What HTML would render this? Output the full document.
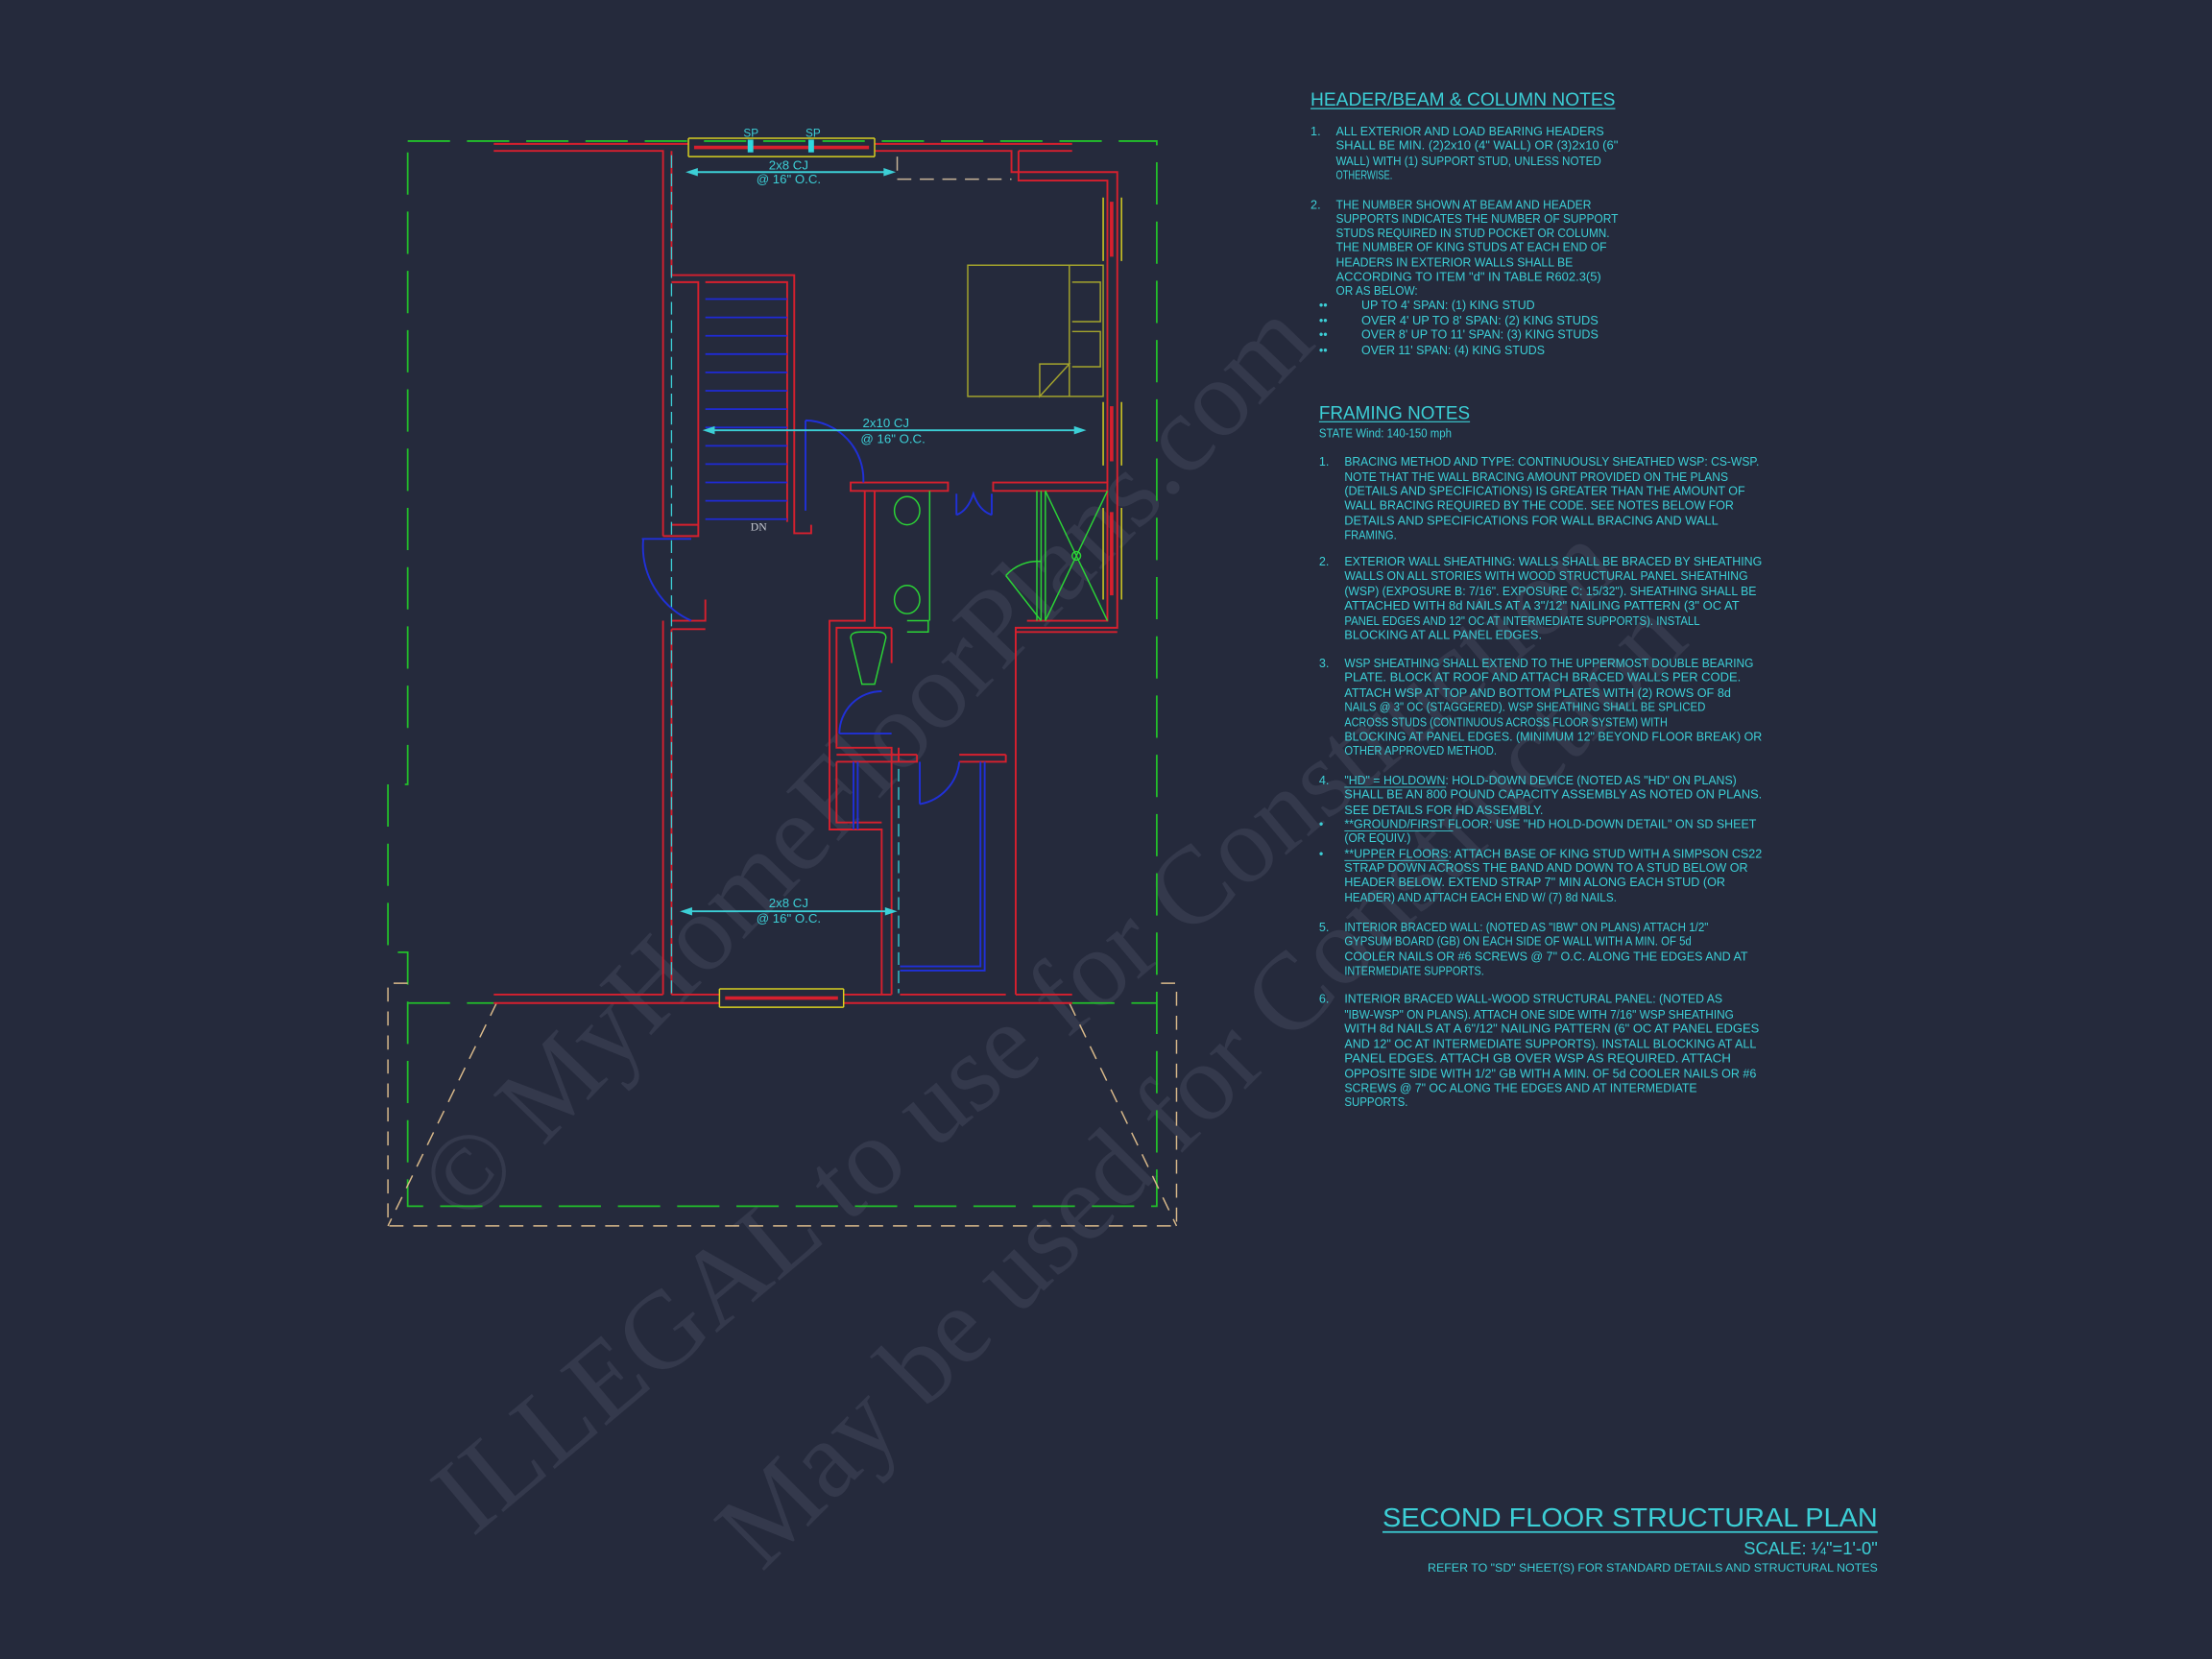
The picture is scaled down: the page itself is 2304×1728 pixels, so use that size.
<!DOCTYPE html>
<html><head><meta charset="utf-8"><style>
html,body{margin:0;padding:0;background:#252a3c;}
svg{display:block}
.t{font-family:"Liberation Sans",sans-serif;fill:#3ccfd6;font-size:9px}
.wm{font-family:"Liberation Serif",serif;fill:#3a3f52;font-size:78px}
</style></head><body>
<svg width="2304" height="1728" viewBox="0 0 1568 1176" xmlns="http://www.w3.org/2000/svg">
<rect width="1568" height="1176" fill="#252a3c"/>
<!-- watermark -->
<g opacity="0.75">
<text class="wm" transform="translate(330,870) rotate(-46)">© MyHomeFloorPlans.com</text>
<text class="wm" transform="translate(335,1090) rotate(-40)">ILLEGAL to use for Construction</text>
<text class="wm" transform="translate(540,1115) rotate(-45)">May be used for Construction</text>
</g>
<!-- green dashed outline -->
<g fill="none" stroke="#22c02a" stroke-width="1.2" stroke-dasharray="30,12">
<path d="M289,100 H820 V855 H289 V675 H275 V556 H289 Z"/>
<path d="M289,711 H350 M760,711 H820"/>
</g>
<!-- beige dashed -->
<g fill="none" stroke="#d9b98a" stroke-width="1" stroke-dasharray="10,7">
<path d="M289,697 H275 V869 H834 V697 H820"/>
<path d="M352,711 L275,869 M758,711 L834,869"/>
</g>
<!-- red walls -->
<g fill="none" stroke="#d7202e" stroke-width="1.3">
<path d="M350,102 H488 M620,102 H760"/>
<path d="M350,107 H470 V380 M620,107 H717 V122 H792 V445 H720 V705 M722,107 H760 M722,107 V128 H785 V342"/>
<path d="M476,107 V195 H563 V378 H575 V372 M500,200 H558 V370 M476,200 H495 V372 H476 M470,380 H495 V372"/>
<path d="M470,440 V705 M476,440 H500 V425 M476,446 H500 M476,446 V705"/>
<path d="M350,711 H510 M598,711 H760 M350,705 H470 M476,705 H510 M598,705 H632 M638,705 H713 M720,705 H760"/>
<path d="M603,342 H672 V348 H603 Z M704,342 H785 V348 H704 Z"/>
<path d="M613,348 V440 H588 V588 H625 V705 M620,348 V445 H593 V530 H632 V705"/>
<path d="M593,535 H650 M593,540 H650 V535 M680,535 H713 M680,540 H713 V535 M593,540 V583 H625"/>
<path d="M785,348 V440 H728 M792,448 H720"/>
<path d="M632,445 V470 M620,445 H632 M637,530 V540"/>
</g>
<!-- windows -->
<g fill="none" stroke="#d8d021" stroke-width="1">
<path d="M488,98 H620 M488,111 H620 M488,98 V111 M620,98 V111"/>
<path d="M510,701 H598 M510,714 H598 M510,701 V714 M598,701 V714"/>
<path d="M782,140 V185 M795,140 V185 M782,285 V330 M795,285 V330 M782,360 V425 M795,360 V425"/>
</g>
<g stroke="#d7202e" stroke-width="2.5"><path d="M492,104.5 H616 M514,707.5 H594 M788,143 V182 M788,288 V327 M788,363 V422"/></g>
<rect x="530" y="99" width="4" height="9" fill="#2fd8e0"/><rect x="573" y="99" width="4" height="9" fill="#2fd8e0"/>
<text class="t" x="527" y="97" style="font-size:8px">SP</text><text class="t" x="571" y="97" style="font-size:8px">SP</text>
<!-- closet dashed beige top -->
<path d="M636,111 V127 H717" fill="none" stroke="#c9b598" stroke-width="1" stroke-dasharray="10,6"/>
<!-- cyan dashed beam lines -->
<g stroke="#3ccfd6" stroke-width="0.9" stroke-dasharray="9,4"><path d="M476,110 V704 M637,545 V704"/></g>
<!-- stair treads -->
<g stroke="#1f2ad6" stroke-width="1.2">
<path d="M500,212 H558 M500,238 H558 M500,264 H558 M500,290 H558 M500,316 H558 M500,342 H558 M500,368 H558"/>
<path d="M500,225 H558 M500,251 H558 M500,277 H558 M500,303 H558 M500,329 H558 M500,355 H558"/>
</g>
<text x="532" y="376" style="font-family:'Liberation Serif',serif;font-size:8px;fill:#c8cbd4">DN</text>
<!-- doors blue -->
<g fill="none" stroke="#2030d8" stroke-width="1.3">
<path d="M571,298 V362 M571,298 A42,42 0 0 1 612,342"/>
<path d="M455,382 H490 M456,382 A58,58 0 0 0 490,440"/>
<path d="M678,350 V365 M703,350 V365 M678,365 Q686,362 690,350 Q694,362 703,365"/>
<path d="M595,520 H632 M595,520 A30,30 0 0 1 625,490"/>
<path d="M652,540 V570 M652,570 A34,34 0 0 0 680,540"/>
<path d="M698,540 V688 H638 M695,540 V685 H638 M605,540 V588 M608,540 V588"/>
</g>
<!-- bed -->
<g fill="none" stroke="#a4a42c" stroke-width="1">
<rect x="686" y="188" width="96" height="93"/>
<path d="M758,188 V281 M760,200 H780 V228 H760 M760,235 H780 V260 H760 M737,258 H758 L737,281 Z"/>
</g>
<!-- bathroom fixtures green -->
<g fill="none" stroke="#2bd436" stroke-width="1">
<path d="M659,348 V440 M643,440 H658 V448 H643"/>
<ellipse cx="643" cy="362" rx="9" ry="10"/><ellipse cx="643" cy="425" rx="9" ry="10"/>
<path d="M603,452 Q603,448 610,448 H622 Q628,448 628,452 L620,485 H611 Z"/>
<path d="M735,348 V440 M738,348 V440 M741,348 V440 M741,348 L785,440 M785,348 L741,440"/>
<circle cx="763" cy="394" r="3"/>
<path d="M713,408 L738,440 M738,398 A30,30 0 0 0 713,408"/>
</g>
<!-- joist arrows -->
<g stroke="#3ccfd6" stroke-width="1.3" fill="#3ccfd6">
<path d="M490,122 H631"/><path d="M488,122 l6,-2 v4z M633,122 l-6,-2 v4z"/>
<path d="M502,305 H766"/><path d="M500,305 l6,-2 v4z M768,305 l-6,-2 v4z"/>
<path d="M486,646 H632"/><path d="M484,646 l6,-2 v4z M634,646 l-6,-2 v4z"/>
</g>
<g class="t" style="font-size:9px" text-anchor="middle">
<text x="559" y="120">2x8 CJ</text><text x="559" y="130">@ 16" O.C.</text>
<text x="628" y="303">2x10 CJ</text><text x="633" y="314">@ 16" O.C.</text>
<text x="559" y="643">2x8 CJ</text><text x="559" y="654">@ 16" O.C.</text>
</g>
<!-- HEADER notes -->
<text class="t" x="929" y="75" style="font-size:13.5px" textLength="216" lengthAdjust="spacingAndGlyphs">HEADER/BEAM &amp; COLUMN NOTES</text>
<line x1="929" y1="77" x2="1145" y2="77" stroke="#3ccfd6" stroke-width="0.8"/>
<g class="t" style="font-size:8.6px">
<text x="929" y="96">1.</text>
<text x="947" y="96" textLength="190" lengthAdjust="spacingAndGlyphs">ALL EXTERIOR AND LOAD BEARING HEADERS</text>
<text x="947" y="106" textLength="200" lengthAdjust="spacingAndGlyphs">SHALL BE MIN. (2)2x10 (4" WALL) OR (3)2x10 (6"</text>
<text x="947" y="117" textLength="188" lengthAdjust="spacingAndGlyphs">WALL) WITH (1) SUPPORT STUD, UNLESS NOTED</text>
<text x="947" y="127" textLength="40" lengthAdjust="spacingAndGlyphs">OTHERWISE.</text>
<text x="929" y="148">2.</text>
<text x="947" y="148" textLength="181" lengthAdjust="spacingAndGlyphs">THE NUMBER SHOWN AT BEAM AND HEADER</text>
<text x="947" y="158" textLength="200" lengthAdjust="spacingAndGlyphs">SUPPORTS INDICATES THE NUMBER OF SUPPORT</text>
<text x="947" y="168" textLength="194" lengthAdjust="spacingAndGlyphs">STUDS REQUIRED IN STUD POCKET OR COLUMN.</text>
<text x="947" y="178" textLength="192" lengthAdjust="spacingAndGlyphs">THE NUMBER OF KING STUDS AT EACH END OF</text>
<text x="947" y="189" textLength="168" lengthAdjust="spacingAndGlyphs">HEADERS IN EXTERIOR WALLS SHALL BE</text>
<text x="947" y="199" textLength="188" lengthAdjust="spacingAndGlyphs">ACCORDING TO ITEM "d" IN TABLE R602.3(5)</text>
<text x="947" y="209" textLength="58" lengthAdjust="spacingAndGlyphs">OR AS BELOW:</text>
<text x="935" y="219">••</text><text x="965" y="219" textLength="123" lengthAdjust="spacingAndGlyphs">UP TO 4' SPAN: (1) KING STUD</text>
<text x="935" y="230">••</text><text x="965" y="230" textLength="168" lengthAdjust="spacingAndGlyphs">OVER 4' UP TO 8' SPAN: (2) KING STUDS</text>
<text x="935" y="240">••</text><text x="965" y="240" textLength="168" lengthAdjust="spacingAndGlyphs">OVER 8' UP TO 11' SPAN: (3) KING STUDS</text>
<text x="935" y="251">••</text><text x="965" y="251" textLength="130" lengthAdjust="spacingAndGlyphs">OVER 11' SPAN: (4) KING STUDS</text>
</g>
<!-- FRAMING notes -->
<text class="t" x="935" y="297" style="font-size:13.5px" textLength="107" lengthAdjust="spacingAndGlyphs">FRAMING NOTES</text>
<line x1="935" y1="299" x2="1042" y2="299" stroke="#3ccfd6" stroke-width="0.8"/>
<text class="t" x="935" y="310" textLength="94" lengthAdjust="spacingAndGlyphs">STATE Wind: 140-150 mph</text>
<g class="t" style="font-size:8.6px">
<text x="935" y="330">1.</text>
<text x="953" y="330" textLength="294" lengthAdjust="spacingAndGlyphs">BRACING METHOD AND TYPE: CONTINUOUSLY SHEATHED WSP: CS-WSP.</text>
<text x="953" y="341" textLength="272" lengthAdjust="spacingAndGlyphs">NOTE THAT THE WALL BRACING AMOUNT PROVIDED ON THE PLANS</text>
<text x="953" y="351" textLength="284" lengthAdjust="spacingAndGlyphs">(DETAILS AND SPECIFICATIONS) IS GREATER THAN THE AMOUNT OF</text>
<text x="953" y="361" textLength="276" lengthAdjust="spacingAndGlyphs">WALL BRACING REQUIRED BY THE CODE. SEE NOTES BELOW FOR</text>
<text x="953" y="372" textLength="265" lengthAdjust="spacingAndGlyphs">DETAILS AND SPECIFICATIONS FOR WALL BRACING AND WALL</text>
<text x="953" y="382" textLength="37" lengthAdjust="spacingAndGlyphs">FRAMING.</text>
<text x="935" y="401">2.</text>
<text x="953" y="401" textLength="296" lengthAdjust="spacingAndGlyphs">EXTERIOR WALL SHEATHING: WALLS SHALL BE BRACED BY SHEATHING</text>
<text x="953" y="411" textLength="286" lengthAdjust="spacingAndGlyphs">WALLS ON ALL STORIES WITH WOOD STRUCTURAL PANEL SHEATHING</text>
<text x="953" y="422" textLength="292" lengthAdjust="spacingAndGlyphs">(WSP) (EXPOSURE B: 7/16". EXPOSURE C: 15/32"). SHEATHING SHALL BE</text>
<text x="953" y="432" textLength="280" lengthAdjust="spacingAndGlyphs">ATTACHED WITH 8d NAILS AT A 3"/12" NAILING PATTERN (3" OC AT</text>
<text x="953" y="443" textLength="252" lengthAdjust="spacingAndGlyphs">PANEL EDGES AND 12" OC AT INTERMEDIATE SUPPORTS). INSTALL</text>
<text x="953" y="453" textLength="140" lengthAdjust="spacingAndGlyphs">BLOCKING AT ALL PANEL EDGES.</text>
<text x="935" y="473">3.</text>
<text x="953" y="473" textLength="290" lengthAdjust="spacingAndGlyphs">WSP SHEATHING SHALL EXTEND TO THE UPPERMOST DOUBLE BEARING</text>
<text x="953" y="483" textLength="281" lengthAdjust="spacingAndGlyphs">PLATE. BLOCK AT ROOF AND ATTACH BRACED WALLS PER CODE.</text>
<text x="953" y="494" textLength="274" lengthAdjust="spacingAndGlyphs">ATTACH WSP AT TOP AND BOTTOM PLATES WITH (2) ROWS OF 8d</text>
<text x="953" y="504" textLength="256" lengthAdjust="spacingAndGlyphs">NAILS @ 3" OC (STAGGERED).  WSP SHEATHING SHALL BE SPLICED</text>
<text x="953" y="515" textLength="229" lengthAdjust="spacingAndGlyphs">ACROSS STUDS (CONTINUOUS ACROSS FLOOR SYSTEM) WITH</text>
<text x="953" y="525" textLength="296" lengthAdjust="spacingAndGlyphs">BLOCKING AT PANEL EDGES. (MINIMUM 12" BEYOND FLOOR BREAK) OR</text>
<text x="953" y="535" textLength="108" lengthAdjust="spacingAndGlyphs">OTHER APPROVED METHOD.</text>
<text x="935" y="556">4.</text>
<text x="953" y="556" textLength="278" lengthAdjust="spacingAndGlyphs">"HD" = HOLDOWN: HOLD-DOWN DEVICE (NOTED AS "HD" ON PLANS)</text>
<text x="953" y="566" textLength="296" lengthAdjust="spacingAndGlyphs">SHALL BE AN 800 POUND CAPACITY ASSEMBLY AS NOTED ON PLANS.</text>
<text x="953" y="577" textLength="141" lengthAdjust="spacingAndGlyphs">SEE DETAILS FOR HD ASSEMBLY.</text>
<text x="935" y="587">•</text>
<text x="953" y="587" textLength="292" lengthAdjust="spacingAndGlyphs">**GROUND/FIRST FLOOR:  USE "HD HOLD-DOWN DETAIL" ON SD SHEET</text>
<text x="953" y="597" textLength="47" lengthAdjust="spacingAndGlyphs">(OR EQUIV.)</text>
<text x="935" y="608">•</text>
<text x="953" y="608" textLength="296" lengthAdjust="spacingAndGlyphs">**UPPER FLOORS: ATTACH BASE OF KING STUD WITH A SIMPSON CS22</text>
<text x="953" y="618" textLength="286" lengthAdjust="spacingAndGlyphs">STRAP DOWN ACROSS THE BAND AND DOWN TO A STUD BELOW OR</text>
<text x="953" y="628" textLength="270" lengthAdjust="spacingAndGlyphs">HEADER BELOW.  EXTEND STRAP 7" MIN ALONG EACH STUD (OR</text>
<text x="953" y="639" textLength="193" lengthAdjust="spacingAndGlyphs">HEADER) AND ATTACH EACH END W/ (7) 8d NAILS.</text>
<line x1="953" y1="589" x2="1030" y2="589" stroke="#3ccfd6" stroke-width="0.6"/>
<line x1="953" y1="610" x2="1027" y2="610" stroke="#3ccfd6" stroke-width="0.6"/>
<line x1="953" y1="558" x2="1025" y2="558" stroke="#3ccfd6" stroke-width="0.6"/>
<text x="935" y="660">5.</text>
<text x="953" y="660" textLength="258" lengthAdjust="spacingAndGlyphs">INTERIOR BRACED WALL: (NOTED AS "IBW" ON PLANS) ATTACH 1/2"</text>
<text x="953" y="670" textLength="246" lengthAdjust="spacingAndGlyphs">GYPSUM BOARD (GB) ON EACH SIDE OF WALL WITH A MIN. OF 5d</text>
<text x="953" y="681" textLength="286" lengthAdjust="spacingAndGlyphs">COOLER NAILS OR #6 SCREWS @ 7" O.C. ALONG THE EDGES AND AT</text>
<text x="953" y="691" textLength="99" lengthAdjust="spacingAndGlyphs">INTERMEDIATE SUPPORTS.</text>
<text x="935" y="711">6.</text>
<text x="953" y="711" textLength="268" lengthAdjust="spacingAndGlyphs">INTERIOR BRACED WALL-WOOD STRUCTURAL PANEL: (NOTED AS</text>
<text x="953" y="722" textLength="276" lengthAdjust="spacingAndGlyphs">"IBW-WSP" ON PLANS). ATTACH ONE SIDE WITH 7/16" WSP SHEATHING</text>
<text x="953" y="732" textLength="294" lengthAdjust="spacingAndGlyphs">WITH 8d NAILS AT A 6"/12" NAILING PATTERN (6" OC AT PANEL EDGES</text>
<text x="953" y="743" textLength="292" lengthAdjust="spacingAndGlyphs">AND 12" OC AT INTERMEDIATE SUPPORTS). INSTALL BLOCKING AT ALL</text>
<text x="953" y="753" textLength="274" lengthAdjust="spacingAndGlyphs">PANEL EDGES. ATTACH GB OVER WSP AS REQUIRED. ATTACH</text>
<text x="953" y="764" textLength="292" lengthAdjust="spacingAndGlyphs">OPPOSITE SIDE WITH 1/2" GB WITH A MIN. OF 5d COOLER NAILS OR #6</text>
<text x="953" y="774" textLength="250" lengthAdjust="spacingAndGlyphs">SCREWS @ 7" OC ALONG THE EDGES AND AT INTERMEDIATE</text>
<text x="953" y="784" textLength="45" lengthAdjust="spacingAndGlyphs">SUPPORTS.</text>
</g>
<!-- title -->
<text class="t" x="980" y="1082" style="font-size:19px" textLength="351" lengthAdjust="spacingAndGlyphs">SECOND FLOOR STRUCTURAL PLAN</text>
<line x1="980" y1="1086" x2="1331" y2="1086" stroke="#3ccfd6" stroke-width="1.2"/>
<text class="t" x="1331" y="1102" style="font-size:12.5px" text-anchor="end">SCALE: ¼"=1'-0"</text>
<text class="t" x="1012" y="1114" style="font-size:8px" textLength="319" lengthAdjust="spacingAndGlyphs">REFER TO "SD" SHEET(S) FOR STANDARD DETAILS AND STRUCTURAL NOTES</text>
</svg>
</body></html>
